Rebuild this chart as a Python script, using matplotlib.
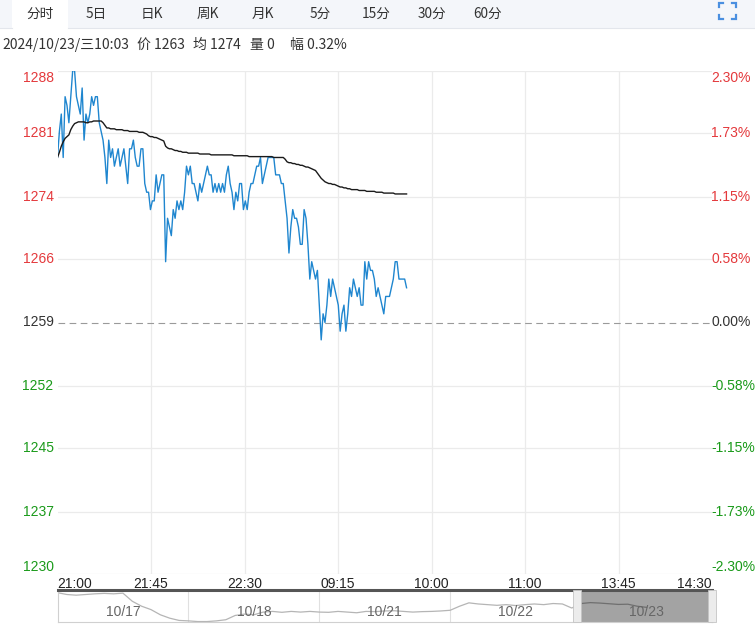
import matplotlib
matplotlib.use('Agg')
import matplotlib.pyplot as plt
from matplotlib.patches import Rectangle
from matplotlib.lines import Line2D

W, H = 755, 627

prev_close = 1259
total_minutes = 345

# minute prices 21:00 -> 10:03
price = [
    1278, 1281, 1283, 1278, 1285, 1284, 1282, 1285, 1288, 1288,
    1285, 1284, 1283, 1286, 1280, 1283, 1282, 1283, 1285, 1284,
    1285, 1285, 1282, 1281, 1280, 1278, 1275, 1280, 1278, 1279,
    1277, 1278, 1279, 1277, 1278, 1279, 1277, 1275, 1279, 1279,
    1280, 1278, 1277, 1277, 1279, 1279, 1275, 1274, 1274, 1272,
    1273, 1273, 1276, 1274, 1275, 1276, 1276, 1266, 1271, 1270,
    1269, 1272, 1271, 1273, 1272, 1273, 1272, 1274, 1277, 1276,
    1277, 1275, 1275, 1274, 1273, 1275, 1274, 1275, 1276, 1277,
    1276, 1276, 1274, 1275, 1274, 1275, 1274, 1275, 1274, 1276,
    1277, 1275, 1274, 1272, 1274, 1273, 1275, 1275, 1272, 1273,
    1272, 1274, 1275, 1275, 1276, 1277, 1277, 1278, 1275, 1276,
    1277, 1278, 1278, 1278, 1278, 1276, 1276, 1276, 1275, 1275,
    1273, 1271, 1267, 1270, 1272, 1271, 1271, 1270, 1268, 1268,
    1272, 1271, 1268, 1264, 1266, 1265, 1264, 1265, 1261, 1257,
    1260, 1259, 1261, 1264, 1262, 1264, 1263, 1262, 1261, 1258,
    1260, 1261, 1258, 1260, 1263, 1262, 1264, 1263, 1262, 1263,
    1261, 1261, 1266, 1264, 1266, 1265, 1265, 1264, 1262, 1263,
    1262, 1261, 1260, 1262, 1262, 1262, 1263, 1264, 1266, 1266,
    1264, 1264, 1264, 1264, 1263,
]

# average price line
avg_price = [
    1278.0, 1278.6, 1279.3, 1279.8, 1280.2, 1280.4, 1280.6, 1281.2, 1281.6, 1281.9,
    1282.0, 1282.1, 1282.1, 1282.1, 1282.1, 1282.0, 1282.0, 1282.1, 1282.1, 1282.2,
    1282.2, 1282.2, 1282.2, 1282.2, 1282.0, 1281.7, 1281.4, 1281.4, 1281.3, 1281.3,
    1281.3, 1281.2, 1281.2, 1281.2, 1281.2, 1281.1, 1281.1, 1281.1, 1281.0, 1281.0,
    1281.0, 1281.0, 1281.0, 1280.9, 1280.9, 1280.9, 1280.8, 1280.7, 1280.5, 1280.4,
    1280.4, 1280.3, 1280.3, 1280.2, 1280.1, 1280.0, 1279.9, 1279.3, 1279.1, 1279.0,
    1279.0, 1278.9, 1278.8, 1278.8, 1278.7, 1278.7, 1278.6, 1278.6, 1278.6, 1278.5,
    1278.5, 1278.5, 1278.5, 1278.5, 1278.5, 1278.4, 1278.4, 1278.4, 1278.4, 1278.4,
    1278.4, 1278.3, 1278.3, 1278.3, 1278.3, 1278.3, 1278.3, 1278.3, 1278.3, 1278.3,
    1278.3, 1278.3, 1278.3, 1278.2, 1278.2, 1278.2, 1278.2, 1278.2, 1278.2, 1278.2,
    1278.2, 1278.1, 1278.1, 1278.1, 1278.1, 1278.1, 1278.1, 1278.1, 1278.1, 1278.1,
    1278.1, 1278.1, 1278.1, 1278.1, 1278.0, 1278.0, 1278.0, 1278.0, 1278.0, 1278.0,
    1277.8, 1277.5, 1277.4, 1277.4, 1277.3, 1277.3, 1277.2, 1277.2, 1277.1, 1277.1,
    1277.0, 1276.9, 1276.9, 1276.8, 1276.7, 1276.6, 1276.5, 1276.2, 1275.9, 1275.6,
    1275.4, 1275.2, 1275.1, 1275.0, 1275.0, 1274.9, 1274.9, 1274.8, 1274.7, 1274.6,
    1274.6, 1274.5, 1274.5, 1274.4, 1274.4, 1274.3, 1274.3, 1274.3, 1274.3, 1274.2,
    1274.2, 1274.2, 1274.2, 1274.1, 1274.1, 1274.1, 1274.1, 1274.1, 1274.0, 1274.0,
    1274.0, 1274.0, 1273.9, 1273.9, 1273.9, 1273.9, 1273.9, 1273.9, 1273.8, 1273.8,
    1273.8, 1273.8, 1273.8, 1273.8, 1273.8,
]

pct_ticks = [2.30, 1.73, 1.15, 0.58, 0.00, -0.58, -1.15, -1.73, -2.30]
price_labels = ['1288', '1281', '1274', '1266', '1259', '1252', '1245', '1237', '1230']
pct_labels = ['2.30%', '1.73%', '1.15%', '0.58%', '0.00%', '-0.58%', '-1.15%', '-1.73%', '-2.30%']
time_labels = ['21:00', '21:45', '22:30', '09:15', '10:00', '11:00', '13:45', '14:30']

tabs = ['分时', '5日', '日K', '周K', '月K', '5分', '15分', '30分', '60分']
info_parts = ['2024/10/23/三10:03', '价 1263', '均 1274', '量 0', '幅 0.32%']

# overview strip (5 days, last one partial)
nav_days = ['10/17', '10/18', '10/21', '10/22', '10/23']
nav_prices = [
    1328, 1320, 1317, 1320, 1323, 1325, 1323, 1326, 1290, 1268, 1253, 1230, 1215, 1205,
    1203, 1200, 1200, 1203, 1208, 1227, 1233, 1230, 1242, 1245, 1241, 1245, 1242, 1245,
    1242, 1241, 1245, 1242, 1239, 1245, 1244, 1247, 1248, 1245, 1242, 1244, 1245, 1247,
    1250, 1268, 1283, 1278, 1275, 1272, 1275, 1271, 1275, 1278, 1275, 1280, 1278, 1260,
    1280, 1284, 1282, 1279, 1276, 1277, 1268, 1263,
]
nav_per_day = 14

RED = '#e4393c'
GREEN = '#1a9a1a'
GRID = '#ebebeb'
CJK = ['Noto Sans CJK SC', 'DejaVu Sans']
NUM = ['Liberation Sans', 'DejaVu Sans']


def fx(px):
    return px / W


def fy(py):
    return 1 - py / H


def label_color(v):
    if v > 0:
        return RED
    if v < 0:
        return GREEN
    return '#333333'


fig = plt.figure(figsize=(W / 100, H / 100), dpi=100)
fig.patch.set_facecolor('white')

# tab bar
fig.patches.append(Rectangle((0, fy(28)), 1, 28 / H, transform=fig.transFigure,
                             facecolor='#f4f6fa', edgecolor='none', zorder=0))
fig.patches.append(Rectangle((fx(12), fy(28)), fx(56), 28 / H, transform=fig.transFigure,
                             facecolor='white', edgecolor='none', zorder=1))
fig.lines.append(Line2D([0, fx(12)], [fy(28), fy(28)], transform=fig.transFigure,
                        color='#e3e6ec', lw=0.8))
fig.lines.append(Line2D([fx(68), 1], [fy(28), fy(28)], transform=fig.transFigure,
                        color='#e3e6ec', lw=0.8))
tab_x = [40, 96, 152, 208, 263, 320, 376, 432, 488]
for t, x in zip(tabs, tab_x):
    fig.text(fx(x), fy(14), t, ha='center', va='center', fontsize=9.8,
             family=CJK, color='#333333', zorder=3)

# fullscreen icon
ic = '#4a8fe0'
cx0, cx1, cy0, cy1, arm = 719, 736, 3, 19, 4
for (x, y, dx, dy) in [(cx0, cy0, 1, 1), (cx1, cy0, -1, 1), (cx0, cy1, 1, -1), (cx1, cy1, -1, -1)]:
    fig.lines.append(Line2D([fx(x + dx * arm), fx(x), fx(x)], [fy(y), fy(y), fy(y + dy * arm)],
                            transform=fig.transFigure, color=ic, lw=1.6,
                            solid_joinstyle='miter'))

info_x = [2, 137, 193, 250, 290]
for part, x in zip(info_parts, info_x):
    fig.text(fx(x), fy(45), part, ha='left', va='center', fontsize=10,
             family=CJK, color='#333333')

# main chart
left, right, top, bottom = 57.5, 712, 71, 574
ax = fig.add_axes([fx(left), fy(bottom), fx(right - left), (bottom - top) / H])
lo = prev_close * (1 + pct_ticks[-1] / 100)
hi = prev_close * (1 + pct_ticks[0] / 100)
ax.set_xlim(0, total_minutes)
ax.set_ylim(lo, hi)
for s in ax.spines.values():
    s.set_visible(False)
ax.set_xticks([])
ax.set_yticks([])

tick_vals = [prev_close * (1 + p / 100) for p in pct_ticks]
n = len(tick_vals)
for i, (v, p, lab, plab) in enumerate(zip(tick_vals, pct_ticks, price_labels, pct_labels)):
    if p == 0:
        ax.axhline(v, color='#9a9a9a', lw=0.8, ls=(0, (6, 4)), zorder=1)
    else:
        ax.axhline(v, color=GRID, lw=0.9, zorder=0)
    va = 'top' if i == 0 else ('bottom' if i == n - 1 else 'center')
    c = label_color(p)
    ax.text(-0.006, v, lab, transform=ax.get_yaxis_transform(),
            ha='right', va=va, fontsize=10, family=NUM, color=c)
    ax.text(0.999, v, plab, transform=ax.get_yaxis_transform(),
            ha='left', va=va, fontsize=10, family=NUM, color=c)

step = total_minutes / (len(time_labels) - 1)
for k, t in enumerate(time_labels):
    xv = k * step
    if 0 < k < len(time_labels) - 1:
        ax.axvline(xv, color=GRID, lw=0.9, zorder=0)
    ha = 'left' if k == 0 else ('right' if k == len(time_labels) - 1 else 'center')
    ax.text(xv, -0.005, t, transform=ax.get_xaxis_transform(), ha=ha, va='top',
            fontsize=10, family=NUM, color='#222222')

xs = list(range(len(price)))
ax.plot(xs, price, color='#1f86cf', lw=1.0, zorder=3)
ax.plot(list(range(len(avg_price))), avg_price, color='#1a1a1a', lw=1.0, zorder=4)

# overview strip
nav_top, nav_bot = 590, 622
nav = fig.add_axes([fx(left), fy(nav_bot), fx(right - left), (nav_bot - nav_top) / H])
nav.set_xlim(0, len(nav_days))
nav.set_ylim(1198, 1340)
nav.set_xticks([])
nav.set_yticks([])
for s in nav.spines.values():
    s.set_color('#d0d0d0')
    s.set_linewidth(0.8)
nav.spines['top'].set_color('#555555')
nav.spines['top'].set_linewidth(2.2)

sel_lo, sel_hi = 4 - 0.03, 5.0
nav.add_patch(Rectangle((sel_lo, 1198), sel_hi - sel_lo, 142, facecolor='#a3a3a3',
                        edgecolor='none', zorder=1))
nav_x = [i / nav_per_day for i in range(len(nav_prices))]
nav.plot(nav_x[:57], nav_prices[:57], color='#b5b5b5', lw=0.9, zorder=2)
nav.plot(nav_x[56:], nav_prices[56:], color='#6f6f6f', lw=0.9, zorder=2)
for d in range(1, len(nav_days)):
    nav.axvline(d, color='#e0e0e0', lw=0.8, zorder=0)
for d, lab in enumerate(nav_days):
    nav.text(d + 0.5, 0.32, lab, transform=nav.get_xaxis_transform(), ha='center',
             va='center', fontsize=10, family=NUM, color='#666666', zorder=3)
for hx in (sel_lo, sel_hi):
    nav.add_patch(Rectangle((hx - 0.03, 1198), 0.06, 142,
                            facecolor='#ececec', edgecolor='#c4c4c4', lw=0.6,
                            zorder=4, clip_on=False))

fig.savefig('out.png', dpi=100, facecolor='white')
